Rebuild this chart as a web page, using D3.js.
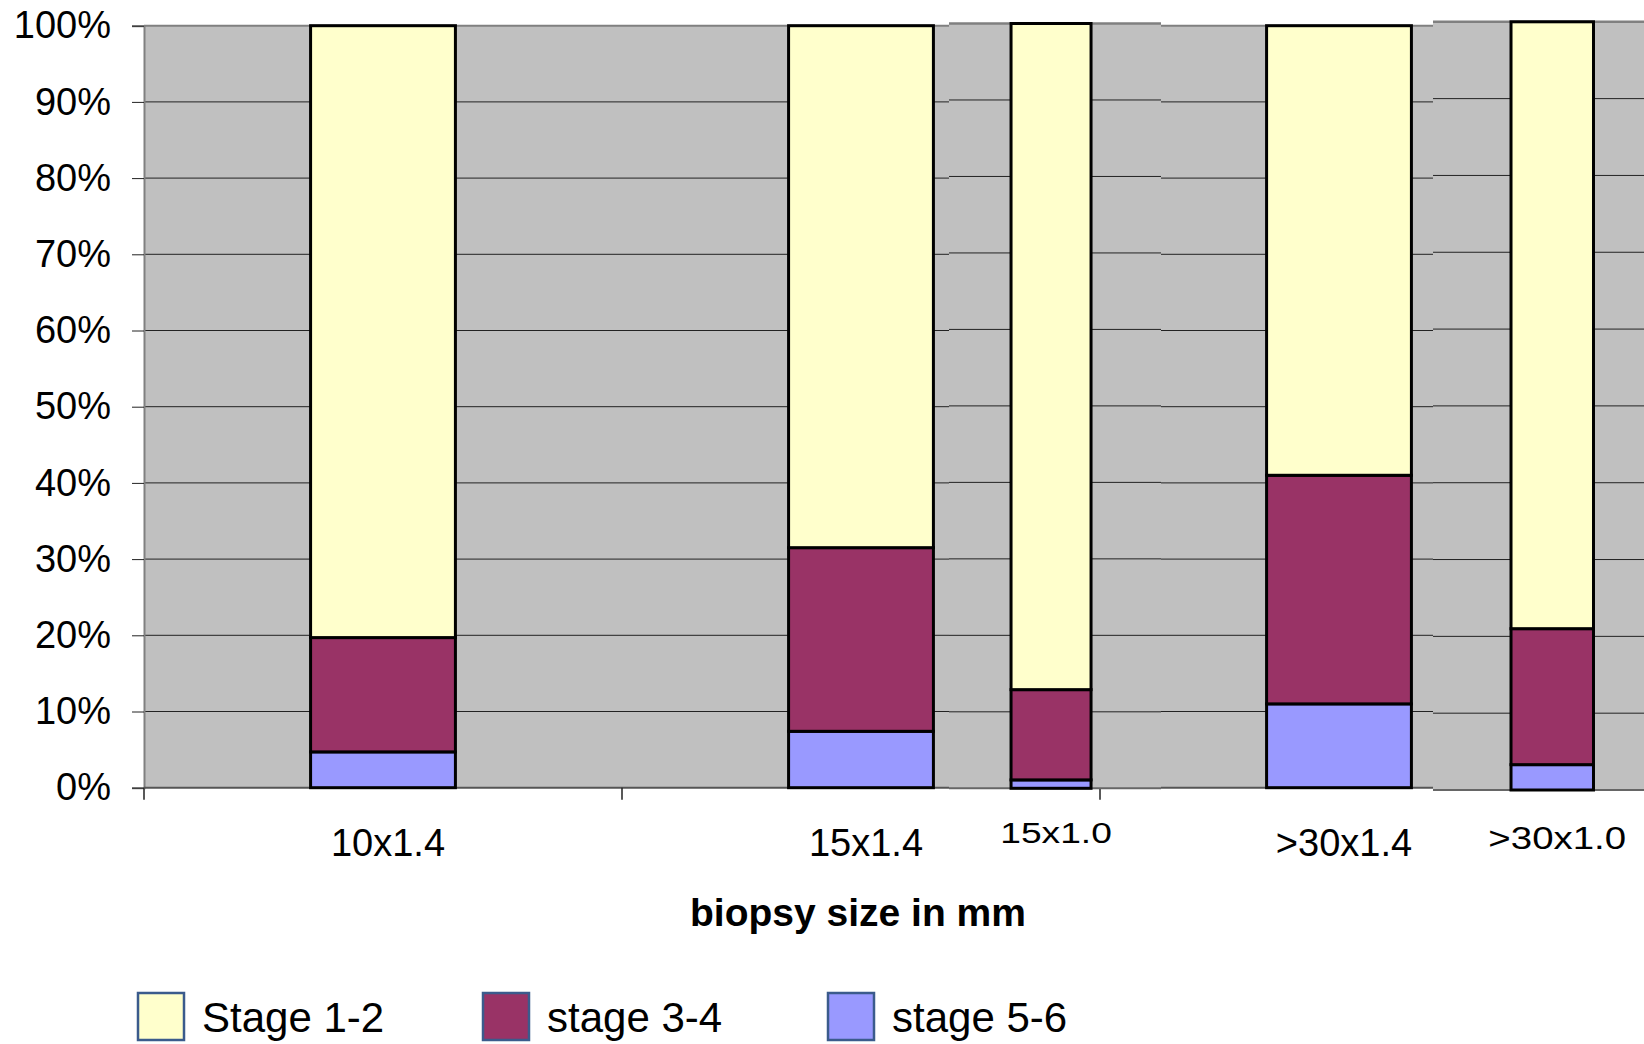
<!DOCTYPE html>
<html>
<head>
<meta charset="utf-8">
<script src="https://cdn.jsdelivr.net/npm/d3@7"></script>
<style>
  html, body { margin: 0; padding: 0; background: #fff; }
  svg { display: block; font-family: "Liberation Sans", Arial, sans-serif; }
</style>
</head>
<body>
<svg id="chart" width="1644" height="1044"></svg>
<script>
// ---- data ----
const categories = ["10x1.4", "15x1.4", "15x1.0", ">30x1.4", ">30x1.0"];
const seriesNames = ["Stage 1-2", "stage 3-4", "stage 5-6"];
const stage12 = [80.3, 68.5, 87.1, 59.0, 79.0];
const stage34 = [15.0, 24.1, 11.8, 30.0, 17.7];
const stage56 = [4.7, 7.4, 1.1, 11.0, 3.3];
const yTicks = [0, 10, 20, 30, 40, 50, 60, 70, 80, 90, 100];
const xTitle = "biopsy size in mm";

// ---- styling / layout ----
const colors = { "Stage 1-2": "#FFFFCC", "stage 3-4": "#993366", "stage 5-6": "#9999FF" };
const plotFill = "#C0C0C0";
const mainCats = ["10x1.4", "15x1.4", ">30x1.4"];
// inset panels (pasted sub-charts) for the narrow bars
const panels = [
  { cat: "15x1.0", x0: 949, x1: 1161, y0: 788.3, y100: 23.5, pad: 0.825, align: 0.47, labelY: 843, fs: 30, sx: 1.24 },
  { cat: ">30x1.0", x0: 1433, x1: 1644, y0: 790, y100: 21.8, pad: 0.779, align: 0.607, labelY: 849, fs: 31, sx: 1.24 }
];

const rows = categories.map((c, i) => ({
  cat: c, "Stage 1-2": stage12[i], "stage 3-4": stage34[i], "stage 5-6": stage56[i]
}));
const stack = d3.stack().keys(["stage 5-6", "stage 3-4", "Stage 1-2"]);
const stacked = stack(rows);

const svg = d3.select("#chart");
const pLeft = 144, pTop = 25.7, pBottom = 787.7, band = 478, pRight = 1644;

const x = d3.scaleBand().domain(mainCats).range([pLeft, pLeft + 3 * band])
  .paddingInner(0.697).paddingOuter(0.3485);
const y = d3.scaleLinear().domain([0, 100]).range([pBottom, pTop]);

// main plot area
svg.append("rect").attr("x", pLeft).attr("y", pTop).attr("width", pRight - pLeft).attr("height", pBottom - pTop)
  .attr("fill", plotFill);
svg.append("g").selectAll("line").data(yTicks.filter(t => t > 0 && t < 100)).join("line")
  .attr("x1", pLeft).attr("x2", pRight).attr("y1", d => y(d)).attr("y2", d => y(d))
  .attr("stroke", "#222").attr("stroke-width", 1);
svg.append("line").attr("x1", pLeft).attr("x2", pRight).attr("y1", y(100)).attr("y2", y(100))
  .attr("stroke", "#808080").attr("stroke-width", 2);

// y axis
const yAxis = d3.axisLeft(y).tickValues(yTicks).tickFormat(d => d + "%").tickSize(12).tickPadding(21);
const gy = svg.append("g").attr("transform", `translate(${pLeft},0)`).call(yAxis);
gy.select(".domain").attr("stroke", "#808080").attr("stroke-width", 2);
gy.selectAll(".tick line").attr("stroke", "#222");
gy.selectAll(".tick text").attr("font-size", 38).attr("fill", "#000")
  .attr("font-family", "'Liberation Sans', Arial, sans-serif");
svg.append("line").attr("x1", pLeft).attr("x2", pLeft).attr("y1", pBottom).attr("y2", pBottom + 12)
  .attr("stroke", "#222").attr("stroke-width", 1.5);

// x axis line and band ticks
svg.append("line").attr("x1", pLeft).attr("x2", pRight).attr("y1", pBottom).attr("y2", pBottom)
  .attr("stroke", "#555").attr("stroke-width", 2);
svg.append("g").selectAll("line").data(mainCats.slice(1)).join("line")
  .attr("x1", d => x(d) - x.step() * x.paddingInner() / 2)
  .attr("x2", d => x(d) - x.step() * x.paddingInner() / 2)
  .attr("y1", pBottom).attr("y2", pBottom + 12).attr("stroke", "#222").attr("stroke-width", 1.5);

function drawBars(g, cats, xs, ys) {
  stacked.forEach(layer => {
    g.append("g").selectAll("rect")
      .data(layer.filter(d => cats.includes(d.data.cat))).join("rect")
      .attr("x", d => xs(d.data.cat)).attr("width", xs.bandwidth())
      .attr("y", d => ys(d[1])).attr("height", d => ys(d[0]) - ys(d[1]))
      .attr("fill", colors[layer.key]).attr("stroke", "#000").attr("stroke-width", 3);
  });
}
drawBars(svg.append("g"), mainCats, x, y);

// main category labels
svg.append("g").selectAll("text").data(mainCats).join("text")
  .attr("x", d => x(d) + x.bandwidth() / 2 + 5).attr("y", 856)
  .attr("text-anchor", "middle").attr("font-size", 38).text(d => d);

// inset panels
panels.forEach(p => {
  const g = svg.append("g");
  const ys = d3.scaleLinear().domain([0, 100]).range([p.y0, p.y100]);
  const xs = d3.scaleBand().domain([p.cat]).range([p.x0, p.x1]).paddingInner(0).paddingOuter(p.pad).align(p.align);
  g.append("rect").attr("x", p.x0).attr("y", ys(100)).attr("width", p.x1 - p.x0).attr("height", p.y0 - ys(100))
    .attr("fill", plotFill);
  g.append("g").selectAll("line").data(yTicks.filter(t => t > 0 && t < 100)).join("line")
    .attr("x1", p.x0).attr("x2", p.x1).attr("y1", d => ys(d)).attr("y2", d => ys(d))
    .attr("stroke", "#222").attr("stroke-width", 1);
  g.append("line").attr("x1", p.x0).attr("x2", p.x1).attr("y1", ys(100)).attr("y2", ys(100))
    .attr("stroke", "#808080").attr("stroke-width", 2.5);
  g.append("line").attr("x1", p.x0).attr("x2", p.x1).attr("y1", ys(0)).attr("y2", ys(0))
    .attr("stroke", "#666").attr("stroke-width", 2);
  drawBars(g, [p.cat], xs, ys);
  const cx = xs(p.cat) + xs.bandwidth() / 2 + 5;
  g.append("text").attr("transform", `translate(${cx},${p.labelY}) scale(${p.sx},1)`)
    .attr("text-anchor", "middle").attr("font-size", p.fs).text(p.cat);
});

// x axis title
svg.append("text").attr("x", 858).attr("y", 926).attr("text-anchor", "middle")
  .attr("font-size", 39).attr("font-weight", "bold").text(xTitle);

// legend
const legendX = d3.scalePoint().domain(seriesNames).range([138, 828]);
const lg = svg.append("g").selectAll("g").data(seriesNames).join("g")
  .attr("transform", d => `translate(${legendX(d)},993)`);
lg.append("rect").attr("width", 46).attr("height", 47).attr("fill", d => colors[d])
  .attr("stroke", "#3B5B8C").attr("stroke-width", 2.5);
lg.append("text").attr("x", 64).attr("y", 39).attr("font-size", 42).text(d => d);
</script>
</body>
</html>
